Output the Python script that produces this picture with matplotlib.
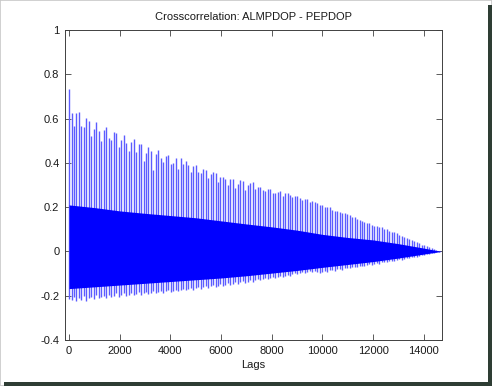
#!/usr/bin/python3

import numpy as np
import matplotlib
matplotlib.use('Agg')
import matplotlib.pyplot as plt
import matplotlib.patches as mpatches

# Spike tops (one every spike_step lags, starting at lag 0)
spike_step = 98
peak_hi = [
	0.732, 0.624, 0.568, 0.624, 0.631, 0.568, 0.563, 0.601, 0.589, 0.521,
	0.553, 0.584, 0.544, 0.499, 0.548, 0.560, 0.511, 0.503, 0.541, 0.533,
	0.473, 0.503, 0.526, 0.488, 0.455,
	0.493, 0.506, 0.450, 0.483, 0.485, 0.407, 0.446, 0.473, 0.454, 0.366,
	0.440, 0.457, 0.423, 0.402, 0.431, 0.436, 0.395, 0.398, 0.423, 0.371,
	0.420, 0.395, 0.409, 0.390,
	0.360, 0.387, 0.390, 0.360, 0.353, 0.371, 0.368, 0.330, 0.348, 0.360,
	0.353, 0.315, 0.335, 0.338, 0.326, 0.300, 0.329, 0.327, 0.285, 0.305,
	0.321, 0.320, 0.277, 0.300, 0.307, 0.313,
	0.280, 0.292, 0.292, 0.277, 0.274, 0.282, 0.282, 0.262, 0.265, 0.267,
	0.273, 0.250, 0.262, 0.262, 0.255, 0.245, 0.250, 0.250, 0.240, 0.232,
	0.237, 0.235, 0.225, 0.228, 0.222,
	0.217, 0.211, 0.208, 0.202, 0.202, 0.199, 0.187, 0.184, 0.182, 0.179,
	0.172, 0.172, 0.169, 0.163, 0.157, 0.154, 0.148, 0.142, 0.139, 0.131,
	0.127, 0.127, 0.119, 0.115,
	0.115, 0.112, 0.109, 0.103, 0.100, 0.094, 0.089, 0.086, 0.082, 0.076,
	0.070, 0.066, 0.062, 0.054, 0.051, 0.047, 0.041, 0.036, 0.030, 0.027,
	0.023, 0.018, 0.014, 0.009, 0.006, 0.003, 0.000,
]

# Spike bottoms, same positions
peak_lo = [
	-0.215, -0.220, -0.205, -0.225, -0.210, -0.218, -0.200, -0.222, -0.212, -0.205,
	-0.215, -0.198, -0.210, -0.205, -0.200, -0.212, -0.195, -0.205, -0.200, -0.190,
	-0.205, -0.198, -0.190, -0.200, -0.195, -0.188, -0.198, -0.192, -0.185, -0.195,
	-0.190, -0.183, -0.192, -0.186, -0.180, -0.190, -0.182, -0.178, -0.186, -0.180,
	-0.175, -0.184, -0.178, -0.172, -0.180, -0.174, -0.168, -0.176, -0.170, -0.165,
	-0.172, -0.166, -0.160, -0.168, -0.162, -0.157, -0.164, -0.158, -0.152, -0.160,
	-0.154, -0.148, -0.155, -0.150, -0.144, -0.150, -0.145, -0.139, -0.146, -0.140,
	-0.135, -0.141, -0.136, -0.130, -0.136, -0.131, -0.125, -0.131, -0.126, -0.120,
	-0.126, -0.121, -0.115, -0.120, -0.115, -0.110, -0.115, -0.110, -0.105, -0.110,
	-0.104, -0.099, -0.104, -0.098, -0.094, -0.098, -0.093, -0.088, -0.092, -0.087,
	-0.095, -0.098, -0.092, -0.089, -0.092, -0.086, -0.084, -0.087, -0.081, -0.079,
	-0.082, -0.076, -0.074, -0.077, -0.071, -0.069, -0.072, -0.066, -0.064, -0.066,
	-0.061, -0.059, -0.061, -0.055, -0.053, -0.055, -0.050, -0.048, -0.049, -0.044,
	-0.042, -0.043, -0.038, -0.036, -0.037, -0.032, -0.030, -0.031, -0.026, -0.024,
	-0.024, -0.019, -0.017, -0.017, -0.012, -0.010, -0.009, -0.006, -0.004, -0.002,
	0.000,
]

# Dense core of the correlation (solid blue band)
band_lags = [0, 1000, 2000, 3000, 4000, 5000, 6000, 7000, 8000, 9000,
             10000, 11000, 12000, 13000, 14000, 14700]
band_hi = [0.21, 0.198, 0.183, 0.172, 0.162, 0.152, 0.138, 0.124, 0.111, 0.096,
           0.077, 0.063, 0.052, 0.035, 0.015, 0.0]
band_lo = [-0.168, -0.160, -0.152, -0.144, -0.136, -0.128, -0.120, -0.110,
           -0.098, -0.086, -0.072, -0.059, -0.046, -0.030, -0.012, 0.0]

xticks = [0, 2000, 4000, 6000, 8000, 10000, 12000, 14000]
yticks = [-0.4, -0.2, 0, 0.2, 0.4, 0.6, 0.8, 1]
ytick_labels = ['-0.4', '-0.2', '0', '0.2', '0.4', '0.6', '0.8', '1']

plt.rcParams['font.family'] = ['Liberation Sans', 'DejaVu Sans']
plt.rcParams['font.size'] = 8

fig = plt.figure(figsize = (4.92, 3.86), dpi = 100)
fig.patch.set_facecolor('white')
axes = fig.add_axes([0.1321, 0.1192, 0.7657, 0.8031])

spike_lags = np.arange(len(peak_hi)) * spike_step
n = min(len(peak_hi), len(peak_lo))

# Spikes look washed out in the screenshot: thin lines, lighter blue
axes.vlines(spike_lags[:n], peak_lo[:n], peak_hi[:n], color = '#5c5cff',
            linewidth = 1.0, zorder = 2)
axes.fill_between(band_lags, band_lo, band_hi, color = '#0000ff',
                  linewidth = 0, zorder = 3)

axes.set_xlim(-160, 14710)
axes.set_ylim(-0.4, 1)
axes.set_xticks(xticks)
axes.set_xticklabels([str(t) for t in xticks])
axes.set_yticks(yticks)
axes.set_yticklabels(ytick_labels)

# MATLAB look: ticks inside on all four sides, grey box
axes.tick_params(direction = 'in', length = 4, width = 0.6,
                 colors = '#404040', labelcolor = '#1a1a1a',
                 top = True, right = True, pad = 4)
for s in axes.spines.values():
	s.set_color('#404040')
	s.set_linewidth(0.7)
	s.set_zorder(4)

axes.set_xlabel('Lags', labelpad = 3, color = '#1a1a1a')
axes.set_title('Crosscorrelation: ALMPDOP - PEPDOP', pad = 7,
               color = '#1a1a1a', fontsize = 8)

# Screenshot frame: light outline and a dark drop shadow
fig.patches.append(mpatches.Rectangle((0, 0), 1, 1, transform = fig.transFigure,
                   fill = False, edgecolor = '#c8c8c8', linewidth = 1.2))
fig.patches.append(mpatches.Rectangle((488 / 492, 0), 4 / 492, 1 - 5 / 386,
                   transform = fig.transFigure, facecolor = '#2e3d34',
                   edgecolor = 'none'))
fig.patches.append(mpatches.Rectangle((4 / 492, 0), 1, 4 / 386,
                   transform = fig.transFigure, facecolor = '#2e3d34',
                   edgecolor = 'none'))

plt.savefig('out.png', dpi = 100)
